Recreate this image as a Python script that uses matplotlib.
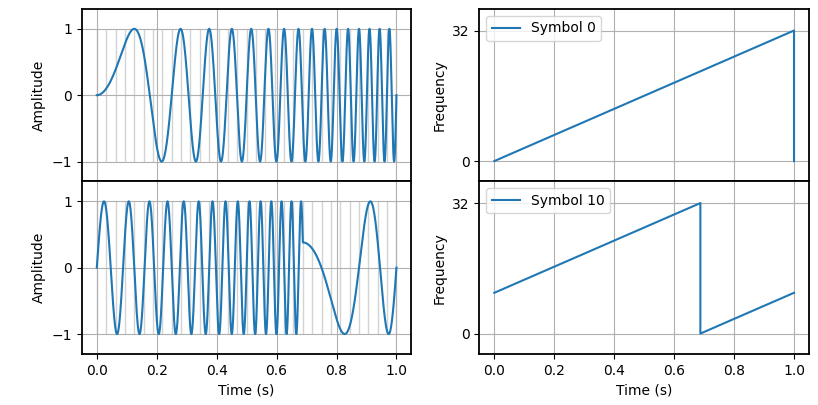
import numpy as np
import matplotlib
matplotlib.use('Agg')
import matplotlib.pyplot as plt

# LoRa-style chirps, N = 32 frequency bins over 1 s
N_BINS = 32
SYMBOLS = [0, 10]
LABELS = ['Symbol 0', 'Symbol 10']

# frequency track of each symbol (breakpoints)
FREQ_T = [[0.0, 1.0, 1.0],
          [0.0, 0.6875, 0.6875, 1.0]]
FREQ_F = [[0, 32, 0],
          [10, 32, 0, 10]]

# sample instants (grey markers on the amplitude panels)
SAMPLE_T = np.arange(N_BINS + 1) / N_BINS


def chirp_wave(tb, fb, n=20000):
    """Integrate the piecewise-linear frequency track into a waveform."""
    t = np.linspace(0, 1, n)
    f = np.zeros_like(t)
    for i in range(len(tb) - 1):
        if tb[i + 1] == tb[i]:
            continue
        m = (t >= tb[i]) & (t <= tb[i + 1])
        f[m] = np.interp(t[m], [tb[i], tb[i + 1]], [fb[i], fb[i + 1]])
    phase = np.concatenate([[0], np.cumsum((f[1:] + f[:-1]) / 2 * np.diff(t))])
    return t, np.sin(2 * np.pi * phase)


fig, axes = plt.subplots(2, 2, figsize=(8.18, 4.05), dpi=100, sharex='col')
fig.subplots_adjust(left=0.100, right=0.989, bottom=0.126, top=0.978,
                    wspace=0.206, hspace=0.0)

for row, (tb, fb, lab) in enumerate(zip(FREQ_T, FREQ_F, LABELS)):
    ax_a, ax_f = axes[row]

    t, y = chirp_wave(tb, fb)
    ax_a.vlines(SAMPLE_T, -1, 1, color='#d3d3d3', lw=1.0, zorder=1)
    ax_a.plot(t, y, color='C0', lw=1.5, zorder=3)
    ax_a.set_ylim(-1.3, 1.3)
    ax_a.set_yticks([-1, 0, 1])
    ax_a.set_ylabel('Amplitude')
    ax_a.grid(True)

    ax_f.plot(tb, fb, color='C0', lw=1.5, label=lab)
    ax_f.set_ylim(-5, 37.3)
    ax_f.set_yticks([0, 32])
    ax_f.set_ylabel('Frequency')
    ax_f.legend(loc='upper left')
    ax_f.grid(True)

for ax in axes.ravel():
    for s in ax.spines.values():
        s.set_linewidth(1.3)

for ax in axes[1]:
    ax.set_xlabel('Time (s)')
    ax.set_xticks([0.0, 0.2, 0.4, 0.6, 0.8, 1.0])

fig.savefig('out.png', dpi=100)
